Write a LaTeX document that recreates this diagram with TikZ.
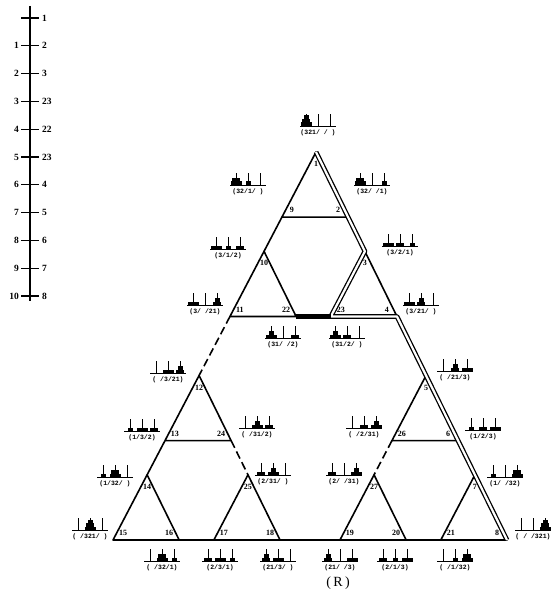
\documentclass[tikz,border=0pt]{standalone}
\usepackage{fontspec}
\setmainfont{Liberation Serif}
\setmonofont{Liberation Mono}
\usetikzlibrary{positioning}

\tikzset{
  pics/hanoi/.style n args={4}{code={
    \draw[line width=0.8pt] (-18,0) -- (18,0);
    \foreach \px in {-12,0,12} \draw[line width=0.8pt] (\px,0) -- (\px,-12);
    \foreach \d [count=\k] in {#1} {\ifnum\d>0 \fill ({-12-1-1.5*\d},{-3.5*(\k-1)}) rectangle ({-12+1+1.5*\d},{-3.5*\k});\fi}
    \foreach \d [count=\k] in {#2} {\ifnum\d>0 \fill ({-1-1.5*\d},{-3.5*(\k-1)}) rectangle ({1+1.5*\d},{-3.5*\k});\fi}
    \foreach \d [count=\k] in {#3} {\ifnum\d>0 \fill ({12-1-1.5*\d},{-3.5*(\k-1)}) rectangle ({12+1+1.5*\d},{-3.5*\k});\fi}
    \node[statetext] (-t) at (0,7) {#4};
  }}
}

\begin{document}
\begin{tikzpicture}[
    x=1pt, y=-1pt,
    edge/.style={line width=1.6pt, line join=round},
    broken/.style={dash pattern=on 8pt off 4pt},
    route/.style={line width=1.3pt, double, double distance=2.2pt, line join=round},
    bar/.style={line width=5pt},
    num/.style={font=\fontsize{8}{8}\selectfont\bfseries, inner sep=0pt},
    numa/.style={num, yshift=-12pt},
    numl/.style={num, xshift=10pt, yshift=7pt},
    numr/.style={num, xshift=-10pt, yshift=7pt},
    statetext/.style={font=\fontsize{6.5}{7}\selectfont\ttfamily\bfseries, inner sep=0pt},
    lnum/.style={font=\fontsize{9.5}{9.5}\selectfont\bfseries, inner sep=0pt},
]
\useasboundingbox (0,0) rectangle (557,609);

% ladder of moves
\coordinate (ltop) at (30,6);
\coordinate (lbot) at (30,301);
\draw[line width=1.3pt] (ltop) -- (lbot);
\foreach \i/\s in {0/1,1/2,2/3,3/23,4/22,5/23,6/4,7/5,8/6,9/7,10/8} {
  \coordinate (t\i) at (30,{18+27.8*\i});
  \draw[line width=1.3pt] ([xshift=-9pt]t\i) -- ([xshift=9pt]t\i);
  \node[lnum, right=12pt of t\i] (r\i) {\s};
  \ifnum\i>0 \node[lnum, left=11pt of t\i] (l\i) {\i};\fi
}

% vertices of the graph
\foreach \n/\u/\v in {1/0/0, 9/0.168/0, 2/0/0.168, 10/0.256/0, 11/0.424/0, 22/0.256/0.168,
    3/0/0.256, 23/0.168/0.256, 4/0/0.424, 12/0.576/0, 13/0.744/0, 24/0.576/0.168,
    14/0.832/0, 15/1/0, 16/0.832/0.168, 25/0.576/0.256, 17/0.744/0.256, 18/0.576/0.424,
    5/0/0.576, 26/0.168/0.576, 6/0/0.744, 27/0.256/0.576, 19/0.424/0.576, 20/0.256/0.744,
    7/0/0.832, 21/0.168/0.832, 8/0/1}
  \coordinate (v\n) at ({316-203*\u+191*\v},{152+388*(\u+\v)});

% small triangles and bridges
\foreach \a/\b/\c in {1/9/2, 10/11/22, 3/23/4, 12/13/24, 14/15/16, 25/17/18, 5/26/6, 27/19/20, 7/21/8}
  \draw[edge] (v\a) -- (v\b) -- (v\c) -- cycle;
\foreach \a/\b in {9/10, 2/3, 13/14, 16/17, 6/7, 20/21, 4/5, 18/19}
  \draw[edge] (v\a) -- (v\b);
\foreach \a/\b in {11/12, 24/25, 26/27}
  \draw[edge, broken] (v\a) -- (v\b);

% the marked route
\draw[route] (v1) -- (v2) -- (v3) -- (v23) -- (v4) -- (v5) -- (v6) -- (v7) -- (v8);
\draw[bar] (v22) -- (v23);

% vertex numbers
\foreach \n in {1,10,3,12,14,25,5,27,7} \node[numa] (n\n) at (v\n) {\n};
\foreach \n in {9,11,23,13,15,17,26,19,21} \node[numl] (n\n) at (v\n) {\n};
\foreach \n in {2,22,4,24,16,18,6,20,8} \node[numr] (n\n) at (v\n) {\n};

% states
\pic (s1) at (318,126) {hanoi={3,2,1}{0}{0}{(321/ / )}};
\pic (s9) at (248,185) {hanoi={3,2}{1}{0}{(32/1/ )}};
\pic (s2) at (372,185) {hanoi={3,2}{0}{1}{(32/ /1)}};
\pic (s10) at (228,249) {hanoi={3}{1}{2}{(3/1/2)}};
\pic (s3) at (400,246) {hanoi={3}{2}{1}{(3/2/1)}};
\pic (s11) at (205,305) {hanoi={3}{0}{2,1}{(3/ /21)}};
\pic (s22) at (283,338) {hanoi={3,1}{0}{2}{(31/ /2)}};
\pic (s23) at (347,338) {hanoi={3,1}{2}{0}{(31/2/ )}};
\pic (s4) at (421,305) {hanoi={3}{2,1}{0}{(3/21/ )}};
\pic (s12) at (168,373) {hanoi={0}{3}{2,1}{( /3/21)}};
\pic (s5) at (455,371) {hanoi={0}{2,1}{3}{( /21/3)}};
\pic (s13) at (142,431) {hanoi={1}{3}{2}{(1/3/2)}};
\pic (s24) at (257,428) {hanoi={0}{3,1}{2}{( /31/2)}};
\pic (s26) at (364,428) {hanoi={0}{2}{3,1}{( /2/31)}};
\pic (s6) at (483,430) {hanoi={1}{2}{3}{(1/2/3)}};
\pic (s14) at (115,477) {hanoi={1}{3,2}{0}{(1/32/ )}};
\pic (s25) at (273,475) {hanoi={2}{3,1}{0}{(2/31/ )}};
\pic (s27) at (344,475) {hanoi={2}{0}{3,1}{(2/ /31)}};
\pic (s7) at (505,477) {hanoi={1}{0}{3,2}{(1/ /32)}};
\pic (s15) at (90,530) {hanoi={0}{3,2,1}{0}{( /321/ )}};
\pic (s8) at (533,530) {hanoi={0}{0}{3,2,1}{( / /321)}};
\pic (s16) at (162,561) {hanoi={0}{3,2}{1}{( /32/1)}};
\pic (s17) at (220,561) {hanoi={2}{3}{1}{(2/3/1)}};
\pic (s18) at (278,561) {hanoi={2,1}{3}{0}{(21/3/ )}};
\pic (s19) at (340,561) {hanoi={2,1}{0}{3}{(21/ /3)}};
\pic (s20) at (395,561) {hanoi={2}{1}{3}{(2/1/3)}};
\pic (s21) at (455,561) {hanoi={0}{1}{3,2}{( /1/32)}};

\node[font=\fontsize{14}{14}\selectfont] (cap) at (338,583) {(\,R\,)};
\end{tikzpicture}
\end{document}
